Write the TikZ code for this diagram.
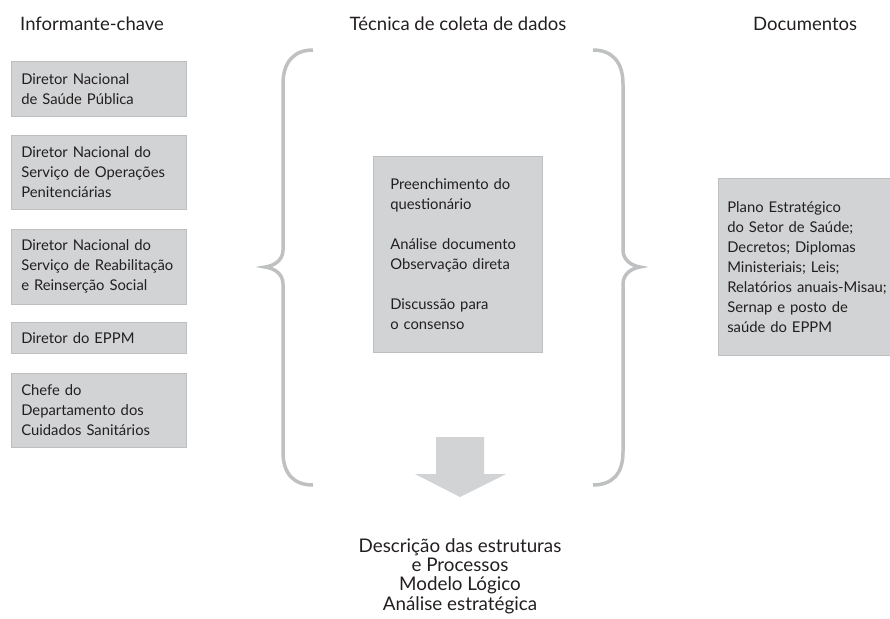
\documentclass[tikz,border=0pt]{standalone}
\usepackage{fontspec}
\setmainfont{Lato}
\definecolor{boxgray}{RGB}{209,211,212}
\definecolor{edgegray}{RGB}{190,191,193}
\definecolor{bracegray}{RGB}{190,192,194}
\definecolor{ink}{RGB}{35,31,32}
\newcommand\boxfont{\fontsize{14.8}{20}\selectfont}
\newcommand\headfont{\fontsize{18.5}{20}\selectfont}
\newcommand\resfont{\fontsize{18.8}{19.3}\selectfont}

\begin{document}
\begin{tikzpicture}
[x=1pt,y=-1pt
,box/.style={draw=edgegray,fill=boxgray,line width=0.6pt,anchor=north west,align=left,inner xsep=10pt,inner ysep=0pt,text width=155pt,font=\boxfont,text=ink}
,head/.style={font=\headfont,text=ink,inner sep=0pt}
,brace/.style={draw=bracegray,line width=3.5pt}
]
\useasboundingbox (0,0) rectangle (890,618);
\node[head,anchor=west] (hinf) at (20,24) {Informante-chave};
\node[head] (htec) at (458,24) {Técnica de coleta de dados};
\node[head,anchor=west] (hdoc) at (753,24) {Documentos};
\node[box,minimum height=55pt] (dnsp) at (11,61) {Diretor Nacional\\de Saúde Pública};
\node[box,minimum height=74pt] (dnsop) at (11,135) {Diretor Nacional do\\Serviço de Operações\\Penitenciárias};
\node[box,minimum height=75pt] (dnsrr) at (11,229) {Diretor Nacional do\\Serviço de Reabilitação\\e Reinserção Social};
\node[box,minimum height=31pt] (deppm) at (11,322) {Diretor do EPPM};
\node[box,minimum height=74pt] (chefe) at (11,373) {Chefe do\\Departamento dos\\Cuidados Sanitários};
\node[box,text width=135pt,inner xsep=17pt,minimum height=196pt] (tecn) at (373,156) {Preenchimento do\\questionário\\[20pt]Análise documento\\Observação direta\\[20pt]Discussão para\\o consenso};
\node[box,text width=175pt,inner xsep=9pt,minimum height=177pt] (docs) at (718,178) {Plano Estratégico\\do Setor de Saúde;\\Decretos; Diplomas\\Ministeriais; Leis;\\Relatórios anuais-Misau;\\Sernap e posto de\\saúde do EPPM};
\node[head,font=\resfont,align=center] (res) at (460,576) {Descrição das estruturas\\e Processos\\Modelo Lógico\\Análise estratégica};
\draw[brace] (313,50) .. controls (294,50) and (283,62) .. (283,84) -- (283,250) .. controls (283,261) and (273,266) .. (265,267) .. controls (273,268) and (283,273) .. (283,284) -- (283,452) .. controls (283,474) and (294,485) .. (313,485);
\draw[brace] (593,50) .. controls (612,50) and (623,62) .. (623,84) -- (623,250) .. controls (623,261) and (633,266) .. (640,267) .. controls (633,268) and (623,273) .. (623,284) -- (623,452) .. controls (623,474) and (612,485) .. (593,485);
\fill[boxgray] (436,437) -- (484,437) -- (484,474) -- (506,474) -- (460,497) -- (415,474) -- (436,474) -- cycle;
\end{tikzpicture}
\end{document}
